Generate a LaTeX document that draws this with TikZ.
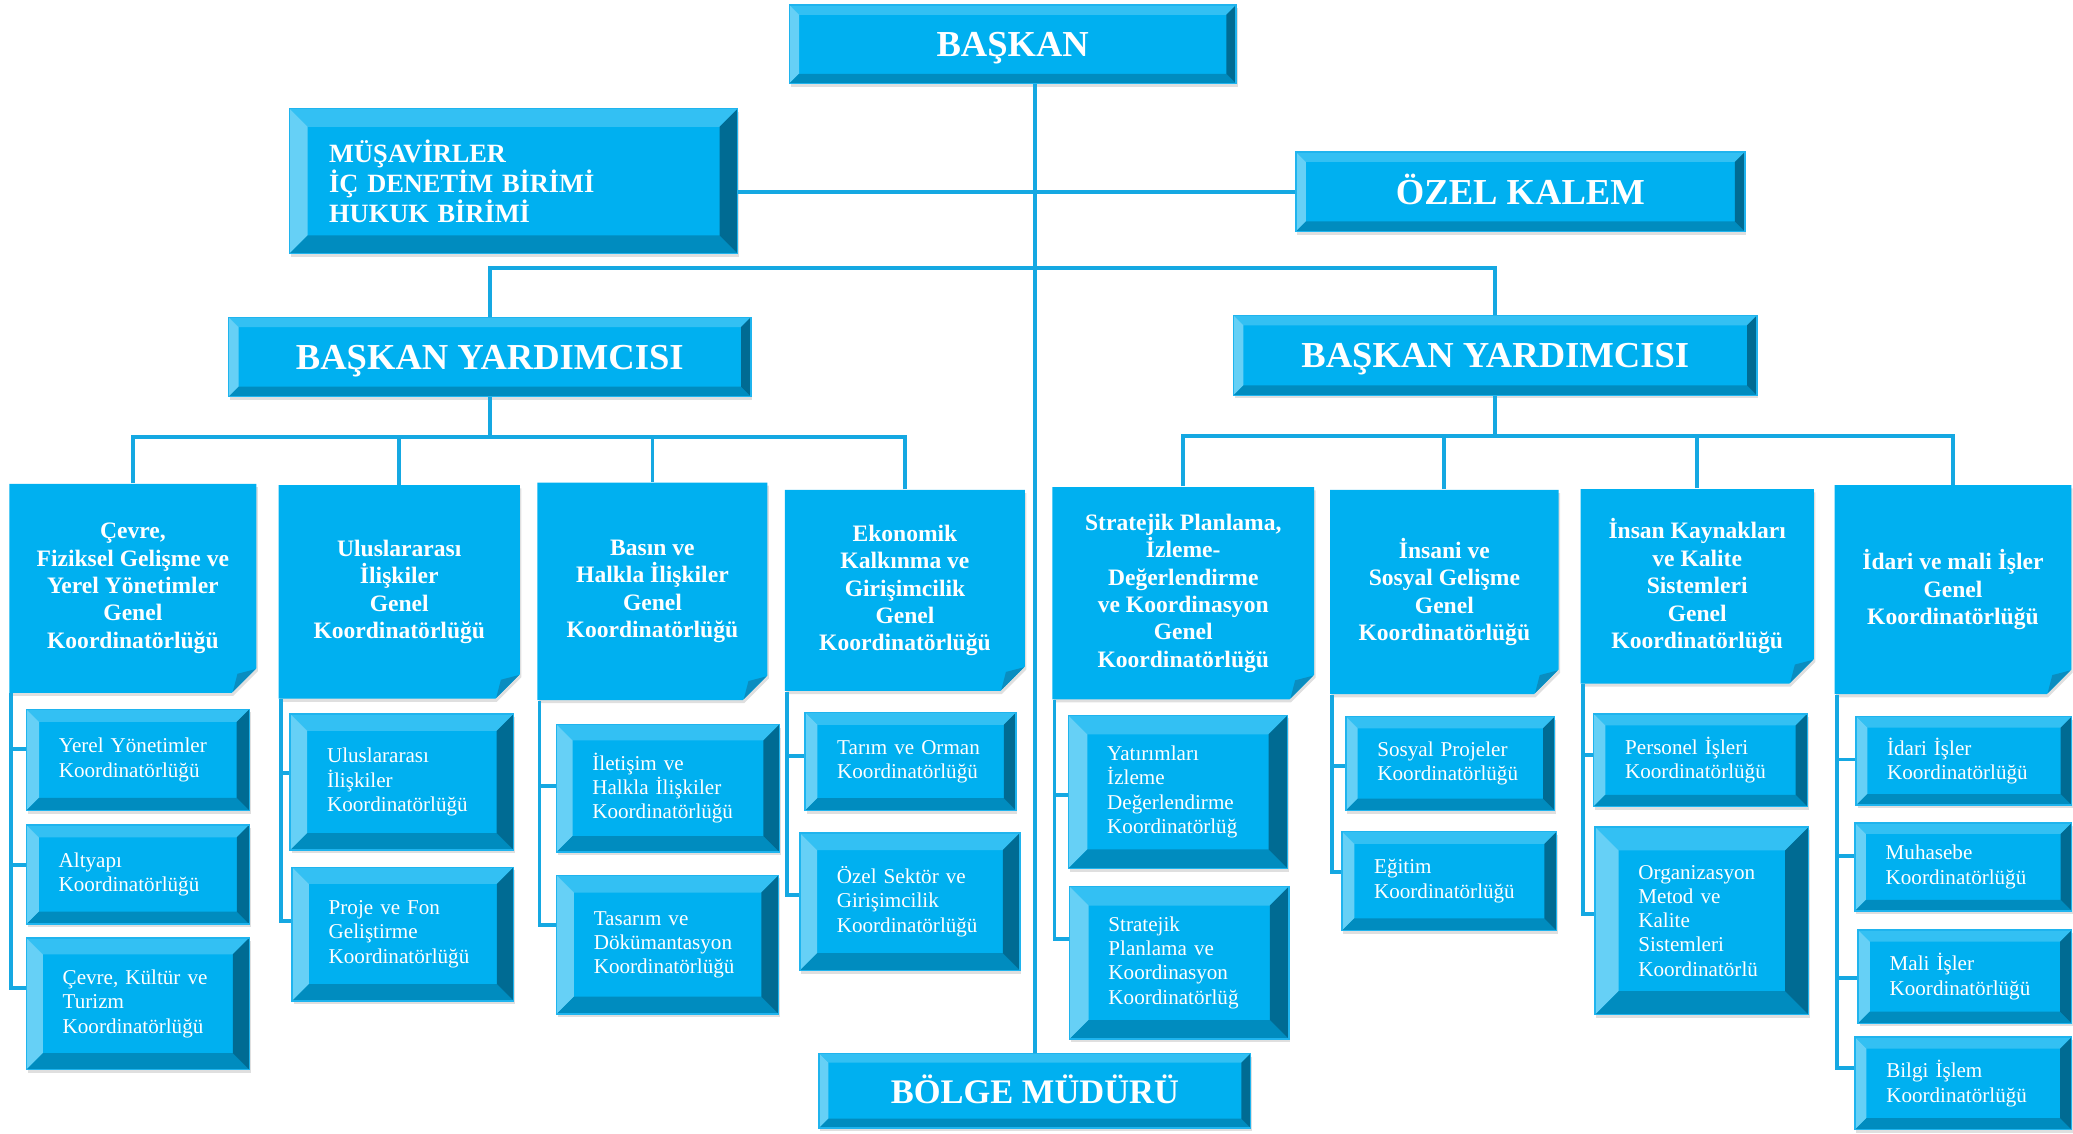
\documentclass[tikz,border=0pt]{standalone}
\usepackage{fontspec}
\setmainfont{Liberation Serif}
\usetikzlibrary{calc,shapes.misc,shadows}

\newlength\dpx
\setlength\dpx{0.013221cm}

\definecolor{boxfill}{HTML}{00B0F0}
\definecolor{bevtop}{HTML}{33C0F3}
\definecolor{bevleft}{HTML}{66D0F6}
\definecolor{bevbot}{HTML}{008CBF}
\definecolor{bevright}{HTML}{006B93}
\definecolor{boxedge}{HTML}{1FB4EE}
\definecolor{foldblue}{HTML}{0A8DC0}
\definecolor{linkblue}{HTML}{15A8E2}

\newcommand\orgtitlefont{\fontsize{10.4}{12}\selectfont\bfseries}
\newcommand\orgmusfont{\fontsize{7.5}{8.5}\selectfont\bfseries}
\newcommand\orggenfont{\fontsize{6.7}{7.8}\selectfont\bfseries}
\newcommand\orgsubfont{\fontsize{6}{6.9}\selectfont}

\begin{document}
\begin{tikzpicture}[
    x=0.013221cm, y=-0.013221cm,
    link/.style={draw=linkblue, line width=1.1pt},
    boxshadow/.style={drop shadow={opacity=0.25, shadow xshift=0.4pt, shadow yshift=-0.9pt}},
    bevelbox/.style={rectangle, draw=boxedge, line width=0.4pt, fill=boxfill, text=white,
        inner sep=0pt, boxshadow,
        path picture={
            \path let \p1=(path picture bounding box.south west),
                \p2=(path picture bounding box.north east),
                \n1={0.125*min(\x2-\x1,\y2-\y1)*1pt} in
                (\x1+\n1,\y1+\n1) coordinate (bsw) (\x2-\n1,\y2-\n1) coordinate (bne);
            \fill[bevtop] (path picture bounding box.north west) -- (path picture bounding box.north east)
                -- (bne) -- (bsw |- bne) -- cycle;
            \fill[bevleft] (path picture bounding box.north west) -- (bsw |- bne)
                -- (bsw) -- (path picture bounding box.south west) -- cycle;
            \fill[bevbot] (path picture bounding box.south west) -- (bsw)
                -- (bne |- bsw) -- (path picture bounding box.south east) -- cycle;
            \fill[bevright] (path picture bounding box.south east) -- (bne |- bsw)
                -- (bne) -- (path picture bounding box.north east) -- cycle;
        }},
    topbox/.style 2 args={bevelbox, minimum width=#1*\dpx, minimum height=#2*\dpx,
        text height=7pt, text depth=0pt, align=center, font=\orgtitlefont},
    musbox/.style={bevelbox, minimum width=339*\dpx, minimum height=109.5*\dpx,
        text width=279*\dpx, align=left, font=\orgmusfont},
    subbox/.style 2 args={bevelbox, minimum width=#1*\dpx, minimum height=#2*\dpx,
        text width={(#1-2*(0.125*min(#1,#2)+15))*\dpx}, align=left, font=\orgsubfont},
    genbox/.style 2 args={chamfered rectangle, chamfered rectangle corners=south east,
        chamfered rectangle xsep=3.5pt, chamfered rectangle ysep=3.5pt,
        minimum width=#1*\dpx, minimum height=#2*\dpx, inner sep=0pt,
        fill=boxfill, text=white, align=center, font=\orggenfont, boxshadow,
        path picture={
            \fill[foldblue] ([yshift=6.8pt]path picture bounding box.south east)
                -- ([xshift=-6.8pt]path picture bounding box.south east)
                -- ([shift={(-5.4pt,5.4pt)}]path picture bounding box.south east) -- cycle;
        }}
]
    \useasboundingbox (0,0) rectangle (1568,857);

    \node[topbox={338}{59.5}] (baskan) at (766,33.5) {BAŞKAN};
    \node[musbox] (musavir) at (388.5,137) {MÜŞAVİRLER\\İÇ DENETİM BİRİMİ\\HUKUK BİRİMİ};
    \node[topbox={339.5}{60}] (ozel) at (1150,145) {ÖZEL KALEM};
    \node[topbox={395}{60}] (byl) at (370.5,270) {BAŞKAN YARDIMCISI};
    \node[topbox={396}{60.5}] (byr) at (1131,268.75) {BAŞKAN YARDIMCISI};
    \node[topbox={326.5}{56.5}, font=\fontsize{9.8}{11}\selectfont\bfseries] (bolge) at (782.75,825) {BÖLGE MÜDÜRÜ};

    \node[genbox={187}{158}] (cevre) at (100.5,445) {Çevre,\\Fiziksel Gelişme ve\\Yerel Yönetimler\\Genel\\Koordinatörlüğü};
    \node[genbox={182.5}{161.5}] (ulus) at (302,447.75) {Uluslararası\\İlişkiler\\Genel\\Koordinatörlüğü};
    \node[genbox={174}{164.5}] (basin) at (493.5,447.25) {Basın ve\\Halkla İlişkiler\\Genel\\Koordinatörlüğü};
    \node[genbox={181.5}{152}] (ekonomi) at (684.5,446.6) {Ekonomik\\Kalkınma ve\\Girişimcilik\\Genel\\Koordinatörlüğü};
    \node[genbox={198}{160.5}] (strateji) at (895,448.7) {Stratejik Planlama,\\İzleme-\\Değerlendirme\\ve Koordinasyon\\Genel\\Koordinatörlüğü};
    \node[genbox={173}{154.5}] (insani) at (1092.5,447.75) {İnsani ve\\Sosyal Gelişme\\Genel\\Koordinatörlüğü};
    \node[genbox={176.5}{147}] (insank) at (1283.75,443.5) {İnsan Kaynakları\\ve Kalite\\Sistemleri\\Genel\\Koordinatörlüğü};
    \node[genbox={179}{158}] (idari) at (1477.2,446) {İdari ve mali İşler\\Genel\\Koordinatörlüğü};

    \node[subbox={168.5}{76.5}] (yerel) at (104.25,574.75) {Yerel Yönetimler\\Koordinatörlüğü};
    \node[subbox={168.5}{75}] (altyapi) at (104.25,661.5) {Altyapı\\Koordinatörlüğü};
    \node[subbox={168.5}{99.5}] (kultur) at (104.25,759.25) {Çevre, Kültür ve\\Turizm\\Koordinatörlüğü};
    \node[subbox={169}{103}] (ulusk) at (304,591.5) {Uluslararası\\İlişkiler\\Koordinatörlüğü};
    \node[subbox={167.5}{101}] (proje) at (304.75,706.5) {Proje ve Fon\\Geliştirme\\Koordinatörlüğü};
    \node[subbox={168.5}{96.5}] (iletisim) at (505.25,596.25) {İletişim ve\\Halkla İlişkiler\\Koordinatörlüğü};
    \node[subbox={168}{105}] (tasarim) at (505,714.5) {Tasarım ve\\Dökümantasyon\\Koordinatörlüğü};
    \node[subbox={159.5}{74}] (tarim) at (688.75,576) {Tarım ve Orman\\Koordinatörlüğü};
    \node[subbox={166.5}{104}] (ozelsektor) at (688.25,682) {Özel Sektör ve\\Girişimcilik\\Koordinatörlüğü};
    \node[subbox={166}{116}] (yatirim) at (891,599) {Yatırımları\\İzleme\\Değerlendirme\\Koordinatörlüğ};
    \node[subbox={166}{115.5}] (planlama) at (892,728.25) {Stratejik\\Planlama ve\\Koordinasyon\\Koordinatörlüğ};
    \node[subbox={158}{71}] (sosyal) at (1097,577.5) {Sosyal Projeler\\Koordinatörlüğü};
    \node[subbox={162.5}{75}] (egitim) at (1096.25,666.5) {Eğitim\\Koordinatörlüğü};
    \node[subbox={161.5}{70}] (personel) at (1286.25,575) {Personel İşleri\\Koordinatörlüğü};
    \node[subbox={161.5}{142}] (organizasyon) at (1287.25,696.5) {Organizasyon\\Metod ve\\Kalite\\Sistemleri\\Koordinatörlü};
    \node[subbox={163}{67}] (idarik) at (1485.5,575.5) {İdari İşler\\Koordinatörlüğü};
    \node[subbox={164}{66.5}] (muhasebe) at (1485,655.75) {Muhasebe\\Koordinatörlüğü};
    \node[subbox={161.5}{70.5}] (mali) at (1486.25,738.75) {Mali İşler\\Koordinatörlüğü};
    \node[subbox={164}{70}] (bilgi) at (1485,819.5) {Bilgi İşlem\\Koordinatörlüğü};

    \draw[link] (bolge.north) -- (bolge.north |- baskan.south);
    \draw[link] (ozel.west) -- (ozel.west -| musavir.east);
    \draw[link] (byl.north) -- ++(0,-37) -| (byr.north);

    \draw[link] (byl.south) -- ++(0,30) coordinate (hubl);
    \foreach \g in {cevre,ulus,basin,ekonomi}
        \draw[link] (\g.north) |- (hubl);
    \draw[link] (byr.south) -- ++(0,30.5) coordinate (hubr);
    \foreach \g in {strateji,insani,insank,idari}
        \draw[link] (\g.north) |- (hubr);

    \foreach \g/\s/\dy in {cevre/yerel/8, cevre/altyapi/7, cevre/kultur/12, ulus/ulusk/7, ulus/proje/10,
            basin/iletisim/2, basin/tasarim/15, ekonomi/tarim/4, ekonomi/ozelsektor/5,
            strateji/yatirim/-2, strateji/planlama/18, insani/sosyal/-2, insani/egitim/7,
            insank/personel/4, insank/organizasyon/5,
            idari/idarik/1, idari/muhasebe/8, idari/mali/-1, idari/bilgi/12}
        \draw[link] (\g.west |- \g.south) ++(0.8pt,0) |- ([yshift=\dy*\dpx]\s.west);
\end{tikzpicture}
\end{document}
